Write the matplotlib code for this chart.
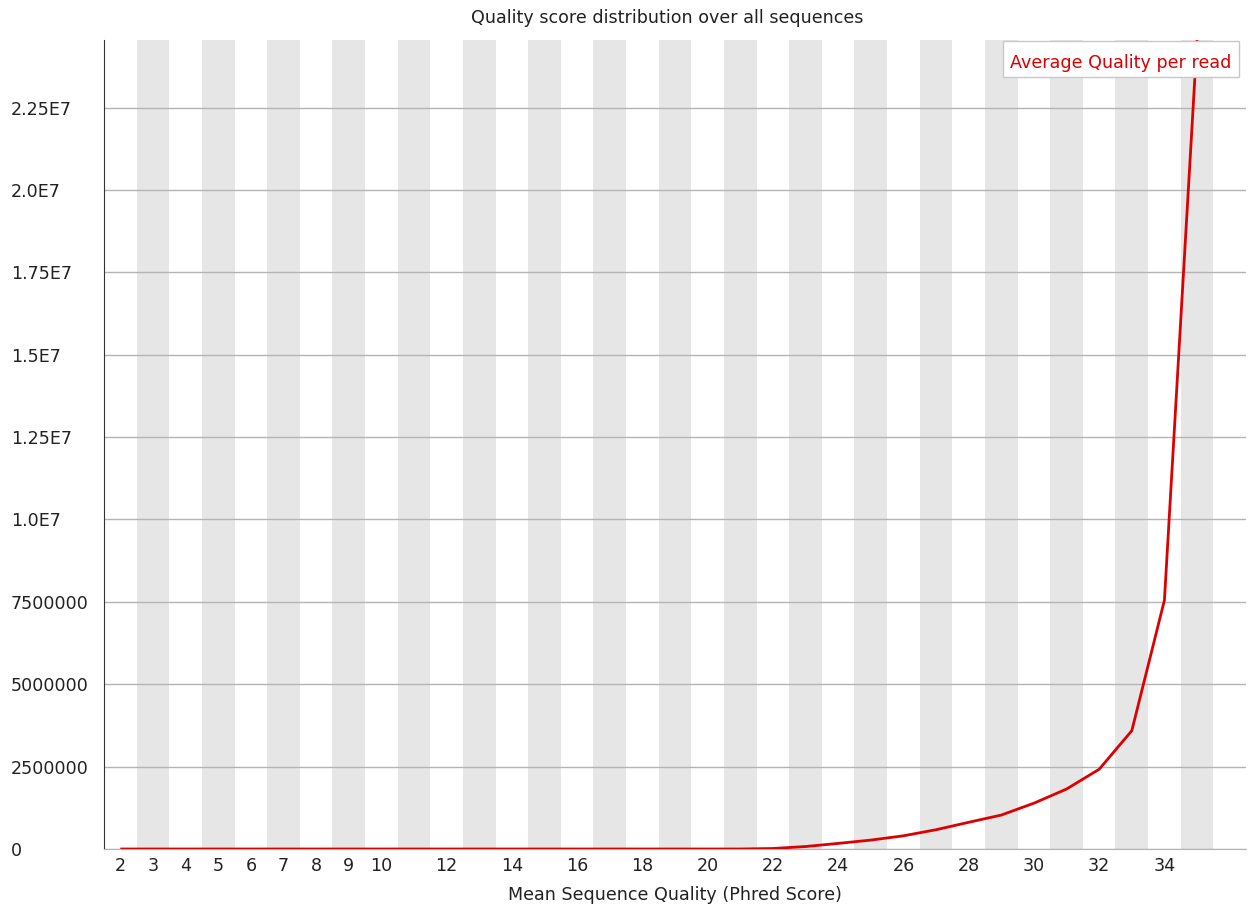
import numpy as np
import matplotlib
matplotlib.use("Agg")
import matplotlib.pyplot as plt
from matplotlib.patches import Rectangle

# mean quality score per read (Phred) and number of reads in each bin
quality = list(range(2, 36))
counts = [0, 0, 0, 0, 0, 0, 0, 0, 0, 0,
          0, 0, 0, 0, 0, 0, 0, 0, 0, 0,
          15000, 75000, 170000, 270000, 400000, 585000, 810000, 1030000,
          1390000, 1820000, 2420000, 3590000, 7550000, 24550000]

xtick_values = [2, 3, 4, 5, 6, 7, 8, 9, 10, 12, 14, 16, 18, 20, 22, 24, 26, 28, 30, 32, 34]
ytick_values = [0, 2.5e6, 5e6, 7.5e6, 1.0e7, 1.25e7, 1.5e7, 1.75e7, 2.0e7, 2.25e7]
ytick_labels = ["0", "2500000", "5000000", "7500000", "1.0E7", "1.25E7",
                "1.5E7", "1.75E7", "2.0E7", "2.25E7"]

W, H = 1249, 914
FS = 12.6
TXT = "#222222"
fig = plt.figure(figsize=(W / 100, H / 100), dpi=100)
ax = fig.add_axes([104 / W, (H - 849) / H, (1246 - 104) / W, (849 - 40) / H])

x_lo, x_hi = 1.5, 36.5
y_top = max(counts)

# alternating background bands, grey on every odd category
for c in range(2, 37):
    if c % 2 == 1:
        ax.axvspan(c - 0.5, c + 0.5, color="#e6e6e6", lw=0, zorder=0)

ax.set_xlim(x_lo, x_hi)
ax.set_ylim(0, y_top)

ax.set_yticks(ytick_values)
ax.set_yticklabels(ytick_labels, ha="left", fontsize=FS, color=TXT)
ax.set_xticks(xtick_values)
ax.set_xticklabels([str(v) for v in xtick_values], fontsize=FS, color=TXT)
ax.tick_params(axis="y", length=0, pad=67)
ax.tick_params(axis="x", length=0, pad=6)

ax.yaxis.grid(True, color="#b4b4b4", lw=1)
ax.set_axisbelow(True)
for side in ("top", "right"):
    ax.spines[side].set_visible(False)
ax.spines["left"].set_color("#333333")
ax.spines["bottom"].set_color("#b4b4b4")

ax.plot(quality, counts, color="#dc0000", lw=2.0, zorder=3, solid_capstyle="butt")

ax.set_xlabel("Mean Sequence Quality (Phred Score)", fontsize=FS, color=TXT, labelpad=8)
fig.text(667 / W, 1 - 18 / H, "Quality score distribution over all sequences",
         ha="center", va="center", fontsize=FS, color=TXT)

# legend box in the upper right corner
ax.add_patch(Rectangle((0.787, 0.954), 0.207, 0.045, transform=ax.transAxes,
                       fc="white", ec="#c8c8c8", lw=1, zorder=5, clip_on=False))
ax.text(0.8905, 0.9716, "Average Quality per read", transform=ax.transAxes,
        ha="center", va="center", fontsize=FS, color="#dc0000", zorder=6)

fig.savefig("out.png", dpi=100)
